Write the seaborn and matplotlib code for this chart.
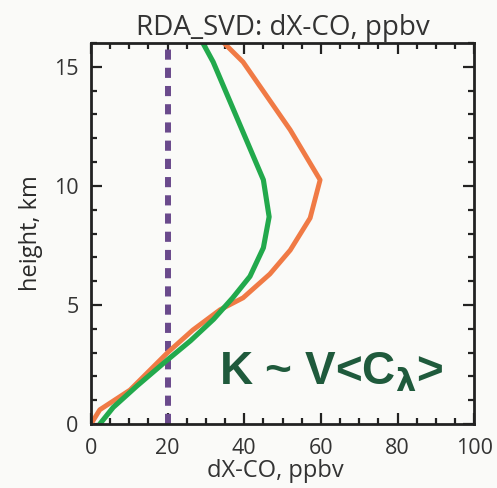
import matplotlib
matplotlib.use("Agg")
import matplotlib.pyplot as plt
import seaborn as sns
import pandas as pd
from matplotlib.ticker import MultipleLocator

# data (dX-CO in ppbv vs height in km)
green_h = [0.0, 0.7, 1.6, 2.7, 3.5, 4.4, 5.3, 6.2, 7.4, 8.7, 10.25, 15.2, 16.0]
green_x = [2.3, 5.8, 12.0, 20.0, 26.0, 32.0, 37.0, 41.5, 45.0, 46.5, 45.0, 31.9, 29.2]
orange_h = [0.0, 0.6, 1.43, 3.0, 3.95, 4.8, 5.3, 6.3, 7.3, 8.65, 10.25, 12.35, 15.2, 16.0]
orange_x = [0.0, 2.3, 10.2, 20.0, 26.6, 33.7, 39.7, 46.7, 52.0, 57.2, 59.8, 52.0, 39.7, 34.7]
ref_x = [20, 20]
ref_h = [0, 16]

sns.set_style("ticks")
plt.rcParams['font.family'] = ['Open Sans', 'DejaVu Sans']

fig = plt.figure(figsize=(4.97, 4.88), dpi=100, facecolor="#fafaf8")
ax = fig.add_axes([0.183, 0.131, 0.771, 0.781])
ax.set_facecolor("#fafaf8")

dg = pd.DataFrame({"x": green_x, "h": green_h})
do = pd.DataFrame({"x": orange_x, "h": orange_h})
dr = pd.DataFrame({"x": ref_x, "h": ref_h})

sns.lineplot(data=dr, x="x", y="h", sort=False, orient="y", ax=ax,
             color="#6a4a8c", lw=4.3, linestyle=(0, (1.7, 1.35)))
sns.lineplot(data=do, x="x", y="h", sort=False, orient="y", ax=ax,
             color="#f07a45", lw=3.5)
sns.lineplot(data=dg, x="x", y="h", sort=False, orient="y", ax=ax,
             color="#22a94c", lw=3.7)

ax.set_xlim(0, 100)
ax.set_ylim(0, 16)
ax.xaxis.set_major_locator(MultipleLocator(20))
ax.xaxis.set_minor_locator(MultipleLocator(5))
ax.yaxis.set_major_locator(MultipleLocator(5))
ax.yaxis.set_minor_locator(MultipleLocator(1))
ax.tick_params(which="both", direction="in", top=True, right=True,
               colors="#222222", width=1.6, labelsize=15.5, labelcolor="#333333")
ax.tick_params(which="major", length=8)
ax.tick_params(axis="x", which="major", pad=10)
ax.tick_params(axis="y", which="major", pad=9)
ax.tick_params(which="minor", length=4)
for s in ax.spines.values():
    s.set_visible(True)
    s.set_linewidth(2)
    s.set_color("#222222")

ax.set_xlabel("dX-CO, ppbv", fontsize=17, color="#333333")
ax.xaxis.set_label_coords(0.48, -0.092)
ax.set_ylabel("height, km", fontsize=17, color="#2a2a2a", labelpad=8)
ax.set_title("RDA_SVD: dX-CO, ppbv", fontsize=20, color="#333333", pad=6)

ax.text(0.335, 0.135, r"K ~ V<C$_\mathbf{\lambda}$>", transform=ax.transAxes,
        fontsize=33, fontweight="bold", color="#1f5a3c",
        family=["Liberation Sans", "DejaVu Sans"], ha="left", va="center")

fig.savefig("out.png", dpi=100, facecolor=fig.get_facecolor())
